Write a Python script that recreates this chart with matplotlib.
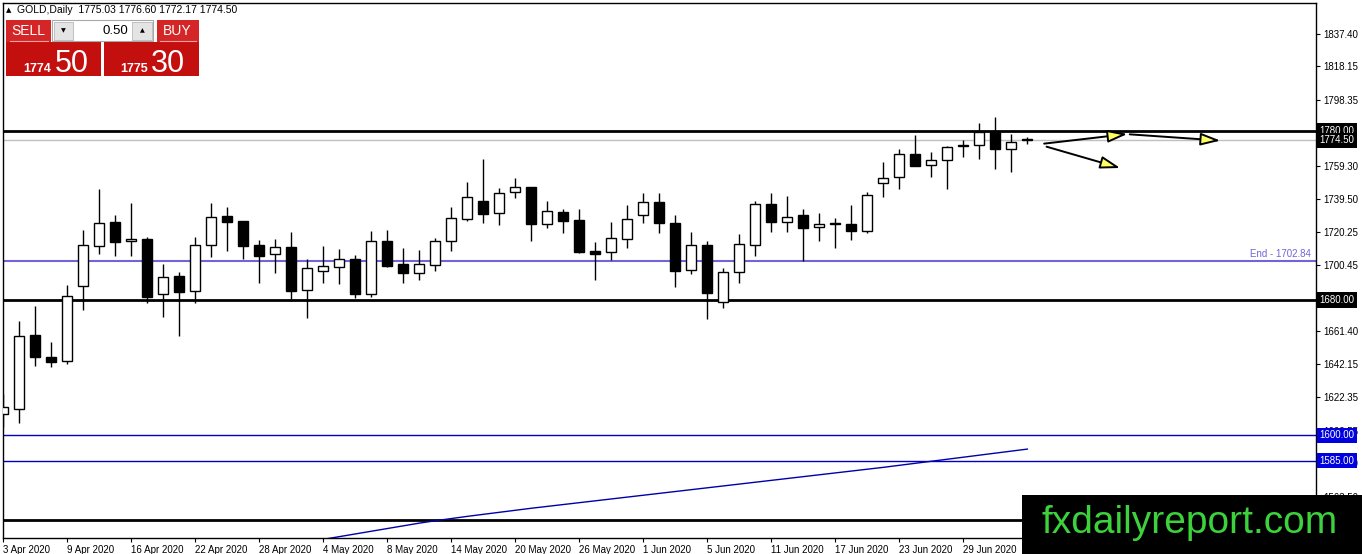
import matplotlib.pyplot as plt
import numpy as np
from matplotlib.patches import Rectangle

plt.rcParams['font.family'] = ['Liberation Sans', 'DejaVu Sans']

# Candele giornaliere GOLD
opens = [1612.5, 1615.7, 1659.3, 1646.1, 1644.1, 1688.5, 1711.8, 1726.2, 1714.7, 1716.1,
         1683.4, 1694.2, 1685.2, 1712.4, 1729.7, 1726.7, 1712.5, 1707.0, 1711.2, 1685.7,
         1697.0, 1699.7, 1704.3, 1683.7, 1714.9, 1701.1, 1695.8, 1700.5, 1714.7, 1728.1,
         1738.4, 1731.3, 1743.7, 1746.7, 1724.8, 1732.1, 1727.3, 1709.0, 1708.2, 1716.3,
         1730.2, 1737.8, 1725.6, 1697.6, 1712.4, 1678.6, 1696.4, 1712.4, 1736.8, 1726.0,
         1730.1, 1723.4, 1725.6, 1725.0, 1721.0, 1749.1, 1752.6, 1766.4, 1759.7, 1762.7,
         1771.1, 1771.5, 1779.2, 1769.2, 1775.03]
highs = [1624.4, 1667.6, 1676.4, 1655.0, 1688.9, 1721.4, 1745.7, 1730.3, 1737.4, 1717.5,
         1701.1, 1696.7, 1717.5, 1737.4, 1735.0, 1727.0, 1715.5, 1716.1, 1720.2, 1704.1,
         1711.8, 1710.2, 1706.6, 1720.8, 1721.4, 1710.8, 1709.6, 1716.5, 1734.8, 1749.8,
         1763.4, 1746.3, 1752.2, 1746.9, 1738.6, 1733.7, 1733.7, 1714.1, 1726.2, 1736.2,
         1743.5, 1743.5, 1730.3, 1720.2, 1714.9, 1698.9, 1719.1, 1738.4, 1743.3, 1741.7,
         1733.7, 1731.5, 1728.3, 1736.2, 1743.7, 1761.7, 1769.2, 1777.6, 1767.4, 1771.1,
         1774.7, 1784.6, 1788.3, 1778.0, 1776.60]
lows = [1604.9, 1607.4, 1641.0, 1640.5, 1642.0, 1674.1, 1707.4, 1706.3, 1706.3, 1678.0,
        1670.1, 1658.9, 1678.5, 1705.4, 1708.7, 1704.3, 1690.2, 1696.2, 1679.6, 1669.2,
        1690.2, 1689.3, 1681.0, 1681.5, 1699.7, 1690.2, 1692.0, 1697.3, 1709.2, 1726.9,
        1725.7, 1724.5, 1740.5, 1715.1, 1722.6, 1719.8, 1707.7, 1691.8, 1703.7, 1710.8,
        1725.7, 1719.8, 1687.9, 1695.6, 1668.9, 1675.5, 1690.2, 1706.2, 1720.0, 1720.4,
        1703.1, 1715.1, 1711.0, 1715.5, 1719.8, 1741.1, 1745.5, 1759.1, 1752.6, 1745.9,
        1764.4, 1763.6, 1757.7, 1755.9, 1772.17]
closes = [1616.7, 1658.7, 1646.4, 1643.5, 1682.2, 1712.4, 1725.4, 1714.5, 1716.1, 1681.9,
          1693.4, 1684.9, 1712.4, 1728.9, 1726.3, 1712.1, 1706.2, 1711.2, 1685.5, 1698.8,
          1700.0, 1704.1, 1683.8, 1714.7, 1700.3, 1695.8, 1701.1, 1714.9, 1728.3, 1740.8,
          1731.1, 1743.1, 1746.7, 1725.2, 1732.5, 1726.9, 1708.6, 1707.4, 1716.5, 1727.8,
          1737.8, 1725.7, 1697.3, 1712.4, 1684.3, 1696.4, 1713.0, 1736.8, 1726.0, 1728.9,
          1722.8, 1725.2, 1724.8, 1721.0, 1742.1, 1752.4, 1766.2, 1759.1, 1762.7, 1770.4,
          1771.6, 1779.2, 1769.2, 1773.7, 1774.50]

# Media mobile (solo la parte visibile, dalla candela 20)
ma_start = 20
ma_values = [1538.4, 1540.0, 1541.6, 1543.2, 1544.8, 1546.4, 1548.0, 1549.4, 1550.7, 1552.0,
             1553.2, 1554.4, 1555.6, 1556.8, 1557.9, 1559.0, 1560.1, 1561.2, 1562.3, 1563.4,
             1564.5, 1565.6, 1566.7, 1567.8, 1568.9, 1570.0, 1571.1, 1572.2, 1573.3, 1574.4,
             1575.5, 1576.6, 1577.7, 1578.8, 1579.9, 1581.0, 1582.2, 1583.4, 1584.6, 1585.8,
             1587.0, 1588.2, 1589.4, 1590.6, 1591.8]

# Etichette asse x (ogni 4 candele)
date_labels = ["3 Apr 2020", "9 Apr 2020", "16 Apr 2020", "22 Apr 2020", "28 Apr 2020",
               "4 May 2020", "8 May 2020", "14 May 2020", "20 May 2020", "26 May 2020",
               "1 Jun 2020", "5 Jun 2020", "11 Jun 2020", "17 Jun 2020", "23 Jun 2020",
               "29 Jun 2020"]
price_ticks = [1837.40, 1818.15, 1798.35, 1779.10, 1759.30, 1739.50, 1720.25, 1700.45,
               1681.20, 1661.40, 1642.15, 1622.35, 1602.55, 1583.30, 1563.50, 1544.25]
# tick nascosti sotto le etichette di prezzo / il watermark
hidden_ticks = [1779.10, 1681.20, 1544.25]

# Livelli orizzontali
resistance_levels = [1780.00, 1680.00, 1550.00]
support_levels = [1600.00, 1585.00]
end_level = 1702.84
bid_price = 1774.50

# Frecce gialle (indice candela, prezzo): inizio -> punta
arrows = [((65.05, 1772.5), (70.25, 1778.2)),
          ((65.2, 1770.7), (69.8, 1758.1)),
          ((70.4, 1778.0), (76.06, 1774.3))]

W, H = 1362, 554
fig = plt.figure(figsize=(W / 100, H / 100), dpi=100)
ax = fig.add_axes([3 / W, 16 / H, 1313 / W, 535 / H])

x = np.arange(len(opens))
o = np.array(opens)
c = np.array(closes)
up = c >= o

# Stoppini e corpi
ax.vlines(x, lows, highs, color='black', lw=1, zorder=3)
ax.bar(x, np.abs(c - o), bottom=np.minimum(o, c), width=0.62,
       color=np.where(up, 'white', 'black'), edgecolor='black', lw=1, zorder=4)

# Linee orizzontali
for lvl in resistance_levels:
    ax.axhline(lvl, color='black', lw=2, zorder=2)
for lvl in support_levels:
    ax.axhline(lvl, color='#0000C0', lw=1, zorder=2)
ax.axhline(end_level, color='#7064D8', lw=1.5, zorder=2)
ax.axhline(bid_price, color='#C0C0C0', lw=1, zorder=1)
ax.text(0.996, end_level + 1.2, "End - %.2f" % end_level, transform=ax.get_yaxis_transform(),
        ha='right', va='bottom', color='#7064D8', fontsize=7)

# Media mobile
ax.plot(np.arange(ma_start, ma_start + len(ma_values)), ma_values, color='#0000A8', lw=1, zorder=2)

# Frecce
for start, tip in arrows:
    ax.annotate('', xy=tip, xytext=start, annotation_clip=False,
                arrowprops=dict(arrowstyle='-|>,head_length=1.2,head_width=0.38',
                                fc='#FFFF66', ec='black', lw=1.4, mutation_scale=10,
                                shrinkA=0, shrinkB=0), zorder=5)

# Assi
ax.set_xlim(-0.02, 82.04)
ax.set_ylim(1539.2, 1855.7)
ax.set_xticks(range(0, 4 * len(date_labels), 4))
ax.set_xticklabels(date_labels, ha='left', fontsize=7)
ax.yaxis.tick_right()
ax.set_yticks(price_ticks)
ax.set_yticklabels(["" if p in hidden_ticks else "%.2f" % p for p in price_ticks], fontsize=7)
ax.tick_params(axis='both', length=3, width=0.8, pad=2, colors='black')
for spine in ax.spines.values():
    spine.set_linewidth(1)
    spine.set_color('black')

# Etichette di prezzo sull'asse destro
def price_tag(value, bg):
    ax.text(1.0025, value, "%.2f" % value, transform=ax.get_yaxis_transform(),
            ha='left', va='center', color='white', fontsize=7, zorder=10, clip_on=False,
            bbox=dict(boxstyle='square,pad=0.28', fc=bg, ec='none'))

price_tag(1780.00, 'black')
price_tag(bid_price, 'black')
price_tag(1680.00, 'black')
price_tag(1600.00, '#0000E0')
price_tag(1585.00, '#0000E0')

# Pannello in coordinate pixel (intestazione, widget SELL/BUY, watermark)
ov = fig.add_axes([0, 0, 1, 1])
ov.set_xlim(0, W)
ov.set_ylim(H, 0)
ov.axis('off')
ov.patch.set_alpha(0)

ov.text(6, 10, "\u25b2", fontsize=5, va='center', family=['DejaVu Sans'])
ov.text(17, 10, "GOLD,Daily  1775.03 1776.60 1772.17 1774.50", fontsize=7.5, va='center')

def box(x0, y0, x1, y1, fc, ec='none', lw=0):
    ov.add_patch(Rectangle((x0, y0), x1 - x0, y1 - y0, fc=fc, ec=ec, lw=lw))

# SELL
box(6, 20, 51, 42, '#D42626')
ov.plot([10, 48], [41, 41], color='#F3A0A0', lw=0.8)
ov.text(28.5, 31, "SELL", color='white', fontsize=10, ha='center', va='center')
box(6, 42, 101, 76, '#C40F0F')
ov.text(23, 72, "1774", color='white', fontsize=9, fontweight='bold', va='baseline')
ov.text(55, 72.5, "50", color='white', fontsize=22, va='baseline')

# Lotto
box(52, 20, 153, 41, 'white', ec='#A8A8A8', lw=0.8)
box(53.5, 21.5, 73, 39.5, '#E4E4E4', ec='#B8B8B8', lw=0.6)
box(132, 21.5, 151.5, 39.5, '#E4E4E4', ec='#B8B8B8', lw=0.6)
ov.text(63, 30.5, "\u25bc", fontsize=4.5, ha='center', va='center', family=['DejaVu Sans'])
ov.text(142, 30.5, "\u25b2", fontsize=4.5, ha='center', va='center', family=['DejaVu Sans'])
ov.text(128, 30.5, "0.50", fontsize=9.5, ha='right', va='center')

# BUY
box(157, 20, 199, 42, '#D42626')
ov.plot([160, 196], [41, 41], color='#F3A0A0', lw=0.8)
ov.text(177, 31, "BUY", color='white', fontsize=10, ha='center', va='center')
box(104, 42, 199, 76, '#C40F0F')
ov.text(120, 72, "1775", color='white', fontsize=9, fontweight='bold', va='baseline')
ov.text(151, 72.5, "30", color='white', fontsize=22, va='baseline')

# Watermark
box(1022, 495, W, H, 'black')
ov.text(1190, 523, "fxdailyreport.com", color='#3CD23C', fontsize=28, ha='center', va='center')

plt.savefig('out.png', dpi=100)
plt.close()
